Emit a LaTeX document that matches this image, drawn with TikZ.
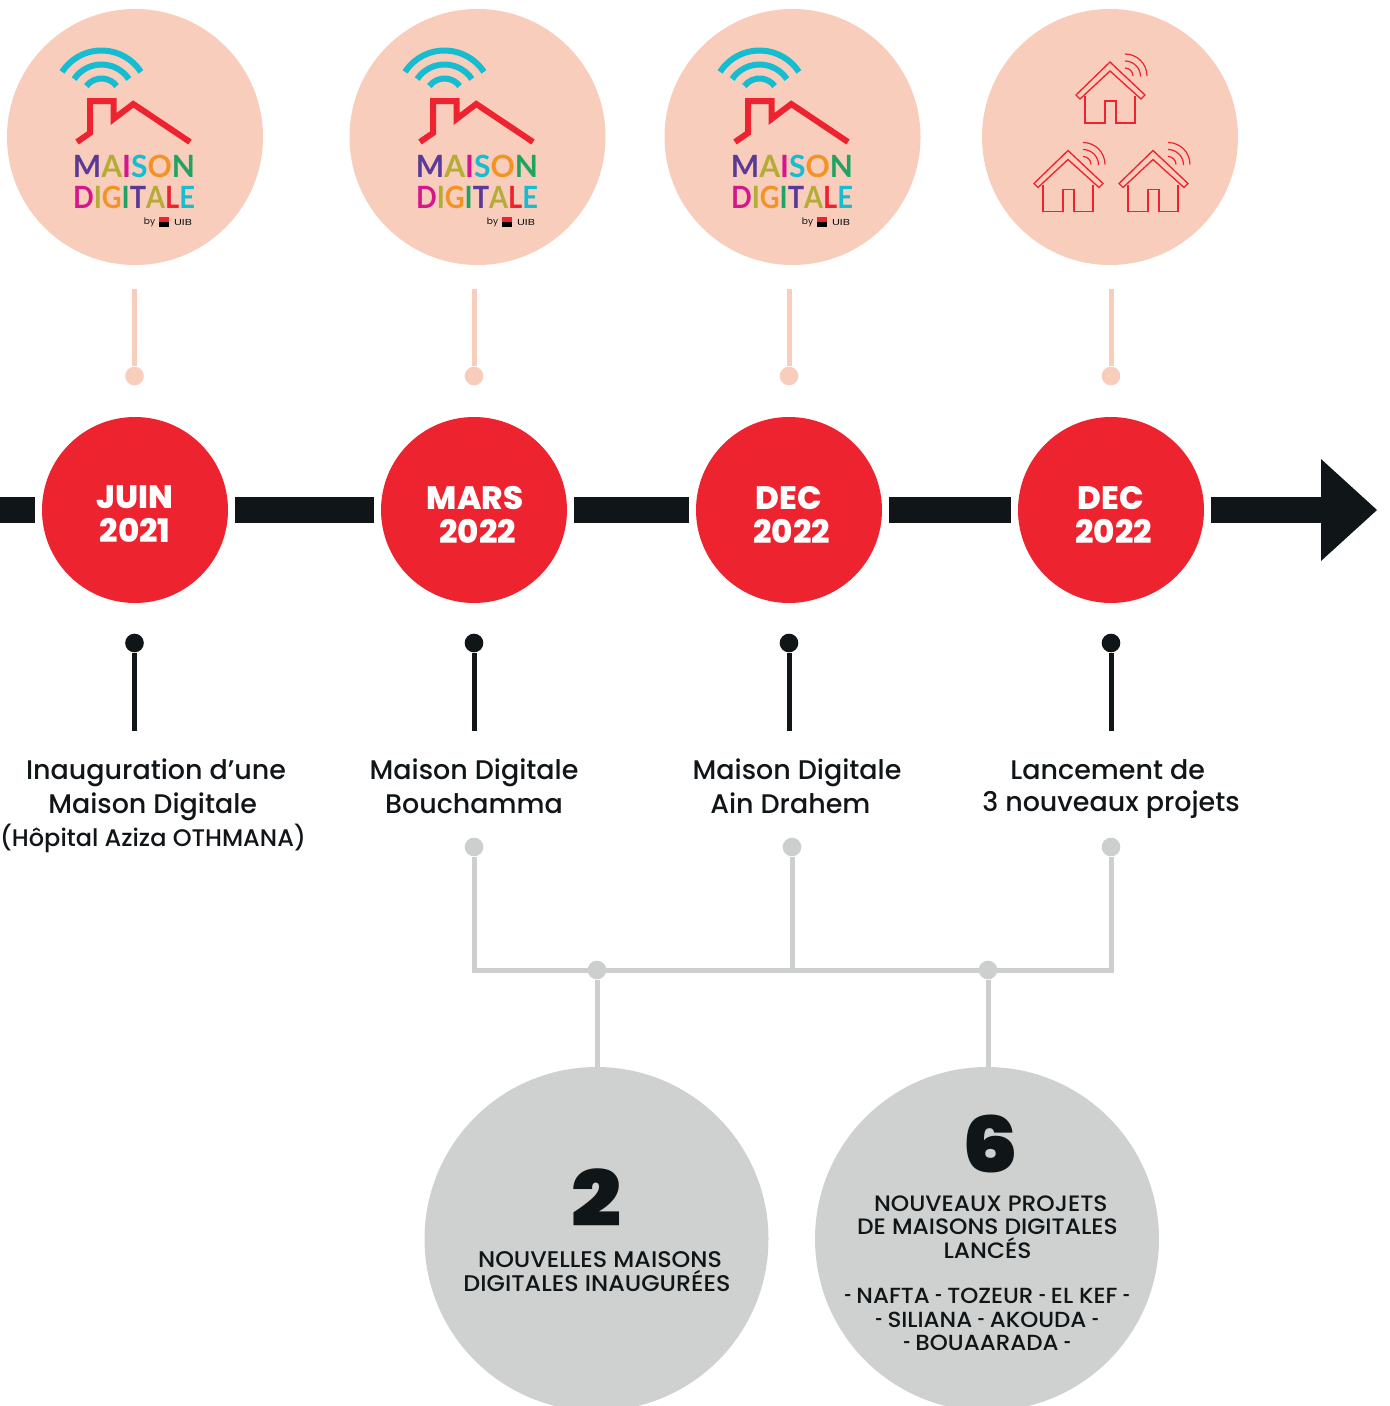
\documentclass[tikz,border=0pt]{standalone}
\usepackage{fontspec}
\setmainfont{Poppins}
\newfontfamily\popmed{Poppins Medium}
\newfontfamily\popwide{Poppins Medium}[FakeStretch=1.05]
\newfontfamily\popblack{Poppins Black}[FakeStretch=1.14]
\newfontfamily\popbold{Poppins ExtraBold}
\newfontfamily\logofont{Lato}[UprightFont=* Bold]
\definecolor{peach}{HTML}{F8CDBC}
\definecolor{tred}{HTML}{ED2330}
\definecolor{ink}{HTML}{101518}
\definecolor{greyc}{HTML}{CFD1D0}
\definecolor{greyl}{HTML}{CDCECE}
\definecolor{lcyan}{HTML}{16BCD0}
\definecolor{lpurple}{HTML}{5B3A96}
\definecolor{lolive}{HTML}{B5AC35}
\definecolor{lorange}{HTML}{F39325}
\definecolor{lgreen}{HTML}{1FA361}
\definecolor{lmag}{HTML}{D4188C}
\newcommand{\hy}{\hspace{3.8pt}\scalebox{0.55}[1]{-}\hspace{3.8pt}}
\newcommand{\hyl}{\scalebox{0.55}[1]{-}\hspace{3.8pt}}
\newcommand{\hyr}{\hspace{3.8pt}\scalebox{0.55}[1]{-}}
\tikzset{
  x=0.75pt,y=-0.75pt,
  photo/.style={circle,fill=peach,minimum size=192pt,inner sep=0,draw=none},
  datec/.style={circle,fill=tred,minimum size=139.5pt,inner sep=0},
  datet/.style={inner sep=0,text=white,align=center,
    font=\popbold\fontsize{24.3}{25.5}\selectfont},
  bigc/.style={circle,fill=greyc,minimum size=258pt,inner sep=0},
  pdot/.style={circle,fill=peach,minimum size=14pt,inner sep=0},
  kdot/.style={circle,fill=ink,minimum size=14pt,inner sep=0},
  gdot/.style={circle,fill=greyl,minimum size=14pt,inner sep=0},
  pline/.style={draw=peach,line width=3.75pt},
  kline/.style={draw=ink,line width=3.75pt},
  gline/.style={draw=greyl,line width=3.75pt},
  bar/.style={draw=ink,line width=19.5pt},
  label/.style={align=center,inner sep=0,text=ink,font=\popmed\fontsize{20.2}{25.5}\selectfont},
  small/.style={align=center,inner sep=0,text=ink,font=\popwide\fontsize{16.4}{17.6}\selectfont},
  pics/logo/.style={code={
    \draw[lcyan,line width=4.5pt] (-32.5,-39.5) ++(213:47) arc[start angle=213,end angle=327,radius=47];
    \draw[lcyan,line width=4.5pt] (-32.5,-39.5) ++(214:33) arc[start angle=214,end angle=326,radius=33];
    \draw[lcyan,line width=4.5pt] (-32.5,-39.5) ++(217:19) arc[start angle=217,end angle=323,radius=19];
    \draw[tred,line width=4.5pt,miter limit=10] (-57,5) -- (-44,-4) -- (-44,-36) -- (-20.5,-36) -- (-20.5,-18) -- (-0.7,-33) -- (56,5);
    \node[inner sep=0,font=\logofont\fontsize{23}{23}\selectfont] at (0,29)
      {\scalebox{0.98}[1]{\textcolor{lpurple}{M}\textcolor{lolive}{A}\textcolor{lmag}{I}\textcolor{lcyan}{S}\textcolor{lorange}{O}\textcolor{lgreen}{N}}};
    \node[inner sep=0,font=\logofont\fontsize{23}{23}\selectfont] at (0,60)
      {\scalebox{0.89}[1]{\textcolor{lmag}{D}\textcolor{lolive}{I}\textcolor{lorange}{G}\textcolor{lgreen}{I}\textcolor{lpurple}{T}\textcolor{lolive}{A}\textcolor{tred}{L}\textcolor{lcyan}{E}}};
    \node[inner sep=0,text=ink,font=\fontsize{6.8}{7}\selectfont] at (15.5,85) {by};
    \fill[tred] (25,80) rectangle (35,85);
    \fill[black] (25,85) rectangle (35,90);
    \node[inner sep=0,text=ink,font=\fontsize{6.5}{7}\selectfont] at (49,85.5) {\scalebox{1.35}[1]{UIB}};
  }},
  pics/minihouse/.style={code={
    \draw[tred,line width=1pt,line join=miter]
      (-34,2) -- (0,-31) -- (35,2) -- (31,6) -- (0,-22) -- (-30,6) -- cycle;
    \draw[tred,line width=1pt,line join=miter]
      (-25,3) -- (-25,30) -- (-5,30) -- (-5,8) -- (6,8) -- (6,30) -- (25,30) -- (25,3);
    \draw[tred,line width=0.9pt] (15,-39) arc[start angle=-90,end angle=0,radius=22];
    \draw[tred,line width=0.9pt] (15,-32) arc[start angle=-90,end angle=0,radius=15.5];
    \draw[tred,line width=0.9pt] (15,-25) arc[start angle=-90,end angle=0,radius=8];
  }}
}
\begin{document}
\begin{tikzpicture}
\useasboundingbox (0,0) rectangle (1389,1406);
% top photo circles
\node[photo] (p1) at (135,137) {};
\node[photo] (p2) at (477.5,137) {};
\node[photo] (p3) at (792.5,137) {};
\node[photo] (p4) at (1110,137) {};
\pic at (134,137) {logo};
\pic at (477,137) {logo};
\pic at (792,137) {logo};
\pic at (1110,93) {minihouse};
\pic at (1068,181.5) {minihouse};
\pic at (1153,181.5) {minihouse};
% axis
\coordinate (a0) at (0,510);
\coordinate (a1) at (35,510);
\coordinate (b0) at (235,510);
\coordinate (b1) at (374,510);
\coordinate (c0) at (574,510);
\coordinate (c1) at (689,510);
\coordinate (d0) at (889,510);
\coordinate (d1) at (1011,510);
\coordinate (e0) at (1211,510);
\coordinate (e1) at (1322,510);
\draw[bar] (a0) -- (a1);
\draw[bar] (b0) -- (b1);
\draw[bar] (c0) -- (c1);
\draw[bar] (d0) -- (d1);
\draw[bar] (e0) -- (e1);
\coordinate (hu) at (1321,459);
\coordinate (hd) at (1321,561);
\coordinate (ht) at (1377,510);
\fill[ink] (hu) -- (ht) -- (hd) -- cycle;
% date circles
\node[datec] (d21) at (135,510) {};
\node[datec] (m22) at (474,510) {};
\node[datec] (dc1) at (789,510) {};
\node[datec] (dc2) at (1111,510) {};
\node[datet] (d21t) at (135,514.5) {JUIN\\2021};
\node[datet] (m22t) at (475,514.5) {MARS\\\hspace*{4pt}2022};
\node[datet] (dc1t) at (791,514.5) {\hspace*{-3pt}DEC\\\hspace*{1pt}2022};
\node[datet] (dc2t) at (1113,514.5) {\hspace*{-3pt}DEC\\\hspace*{1pt}2022};
% peach pins
\foreach \n/\xx in {1/134.5,2/474,3/789,4/1111}{
  \coordinate (pt\n) at (\xx,289);
  \node[pdot] (pd\n) at (\xx,376) {};
  \draw[pline] (pt\n) -- (pd\n);
  \node[kdot] (kd\n) at (\xx,643) {};
  \coordinate (kb\n) at (\xx,731);
  \draw[kline] (kd\n) -- (kb\n);
}
% labels
\node[label] (l1) at (156,790) {Inauguration d’une\\Maison Digitale\hspace*{5pt}};
\node[inner sep=0,text=ink,font=\popmed\fontsize{18}{20}\selectfont] (l1b) at (153,838.5) {(Hôpital Aziza OTHMANA)};
\node[label] (l2) at (474,786.5) {Maison Digitale\\Bouchamma};
\node[label] (l3) at (797,786.5) {Maison Digitale\\\hspace*{-10pt}Ain Drahem};
\node[label,font=\popmed\fontsize{20.2}{24}\selectfont] (l4) at (1111,789) {Lancement de\hspace*{5pt}\\3 nouveaux projets};
% grey tree
\node[gdot] (g1) at (474,847) {};
\node[gdot] (g2) at (792,847) {};
\node[gdot] (g3) at (1111,847) {};
\node[gdot] (j1) at (597,970) {};
\node[gdot] (j2) at (988,970) {};
\coordinate (bm) at (792,970);
\node[bigc] (big1) at (596.5,1239) {};
\node[bigc] (big2) at (987,1239) {};
\draw[gline,line join=miter] (g1) |- (j1.center) -- (j2.center) -| (g3);
\draw[gline] (g2) -- (bm);
\draw[gline] (j1) -- (j1|-big1.north);
\draw[gline] (j2) -- (j2|-big2.north);
% big circle text
\node[inner sep=0,text=ink,font=\popblack\fontsize{58}{60}\selectfont] (n2) at (596.5,1198) {2};
\node[small,font=\popwide\fontsize{17}{17.6}\selectfont] (t2) at (597,1271.5) {\hspace*{4.5pt}NOUVELLES MAISONS\\DIGITALES INAUGURÉES};
\node[inner sep=0,text=ink,font=\popblack\fontsize{58}{60}\selectfont] (n6) at (990,1144) {6};
\node[small,font=\popwide\fontsize{16.7}{17.6}\selectfont] (t6) at (987.5,1227) {\hspace*{5pt}NOUVEAUX PROJETS\\DE MAISONS DIGITALES\\LANCÉS};
\node[small] (t6b) at (987,1319.5) {\hyl NAFTA\hy TOZEUR\hy EL KEF\hyr\\\hyl SILIANA\hy AKOUDA\hyr\\\hyl BOUAARADA\hyr};
\end{tikzpicture}
\end{document}
